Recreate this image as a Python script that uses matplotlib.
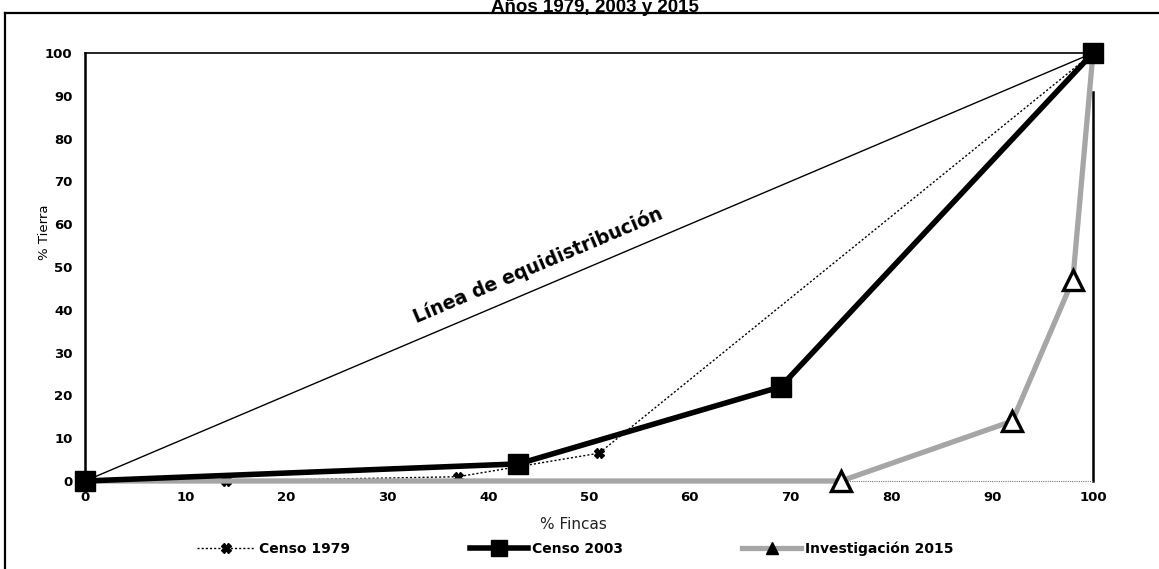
import matplotlib
matplotlib.use("Agg")
import matplotlib.pyplot as plt
from matplotlib.lines import Line2D

# ---- data ----
x_1979 = [0, 14, 37, 51, 100]
y_1979 = [0, 0, 1, 6.5, 100]
x_2003 = [0, 43, 69, 100]
y_2003 = [0, 4, 22, 100]
x_2015 = [0, 75, 92, 98, 100]
y_2015 = [0, 0, 14, 47, 100]
equi = [0, 100]
ticks = [0, 10, 20, 30, 40, 50, 60, 70, 80, 90, 100]

W, H = 1159, 569
fig = plt.figure(figsize=(W / 100, H / 100), dpi=100)
fig.patch.set_facecolor("white")

# outer frame (partial, as in scan)
fig.add_artist(Line2D([5 / W, 5 / W], [0, 1 - 13 / H], transform=fig.transFigure, color="black", lw=1.6))
fig.add_artist(Line2D([5 / W, 1], [1 - 13 / H, 1 - 13 / H], transform=fig.transFigure, color="black", lw=1.6))

# title at the very top edge
fig.text(595 / W, 1 - 12 / H, "Años 1979, 2003 y 2015", ha="center", va="baseline",
         fontsize=13.5, fontweight="bold", family="Liberation Sans")

ax = fig.add_axes([85 / W, 88 / H, 1008 / W, 428 / H])
ax.set_xlim(0, 100)
ax.set_ylim(0, 100)
for s in ax.spines.values():
    s.set_visible(False)

# frame lines
ax.plot([0, 0], [0, 100], color="black", lw=1.8, clip_on=False, zorder=2)
ax.plot([0, 100], [100, 100], color="black", lw=1.2, clip_on=False, zorder=2)
ax.plot([100, 100], [0, 91], color="black", lw=1.8, clip_on=False, zorder=2)
ax.plot([0, 100], [0, 0], color="#777777", lw=0.8, ls=(0, (1, 1)), clip_on=False, zorder=2)

# equidistribution line
ax.plot(equi, equi, color="black", lw=1.0, zorder=3, clip_on=False)
ax.text(32.9, 36.9, "Línea de equidistribución", rotation=23, rotation_mode="anchor",
        ha="left", va="baseline", fontsize=13.5, fontweight="bold", family="DejaVu Sans")

ax.plot(x_1979, y_1979, color="black", lw=1.0, ls=(0, (1.5, 1.5)), marker="X",
        markersize=7, markerfacecolor="black", markeredgecolor="black",
        clip_on=False, zorder=4)
ax.plot(x_2015, y_2015, color="#a6a6a6", lw=3.8, marker="^", markersize=14,
        markerfacecolor="white", markeredgecolor="black", markeredgewidth=2.4,
        markevery=[1, 2, 3], clip_on=False, zorder=5)
ax.plot(x_2003, y_2003, color="black", lw=4.0, marker="s", markersize=15,
        clip_on=False, zorder=6)

ax.set_xticks(ticks)
ax.set_yticks(ticks)
ax.tick_params(length=0)
ax.tick_params(axis="x", pad=7)
ax.tick_params(axis="y", pad=9)
for lab in ax.get_xticklabels() + ax.get_yticklabels():
    lab.set_fontweight("bold")
    lab.set_fontsize(9.5)
    lab.set_family("DejaVu Sans")

ax.set_xlabel("% Fincas", fontsize=11, family="DejaVu Sans", color="#222222")
ax.xaxis.set_label_coords(0.485, -0.085)
fig.text(45 / W, 1 - 232 / H, "% Tierra", rotation=90, ha="center", va="center",
         fontsize=9.5, family="DejaVu Sans")

h1 = Line2D([], [], color="black", lw=1.0, ls=(0, (1.5, 1.5)), marker="X", markersize=7)
h2 = Line2D([], [], color="black", lw=4.0, marker="s", markersize=12)
h3 = Line2D([], [], color="#a6a6a6", lw=3.8, marker="^", markersize=9,
            markerfacecolor="black", markeredgecolor="black")
leg = fig.legend([h1, h2, h3], ["Censo 1979", "Censo 2003", "Investigación 2015"],
                 loc="center", bbox_to_anchor=(575 / W, 1 - 549 / H), ncol=3, frameon=False,
                 handlelength=4.2, handletextpad=0.3, columnspacing=8.6,
                 prop={"family": "DejaVu Sans", "weight": "bold", "size": 10})

fig.savefig("out.png", dpi=100)
